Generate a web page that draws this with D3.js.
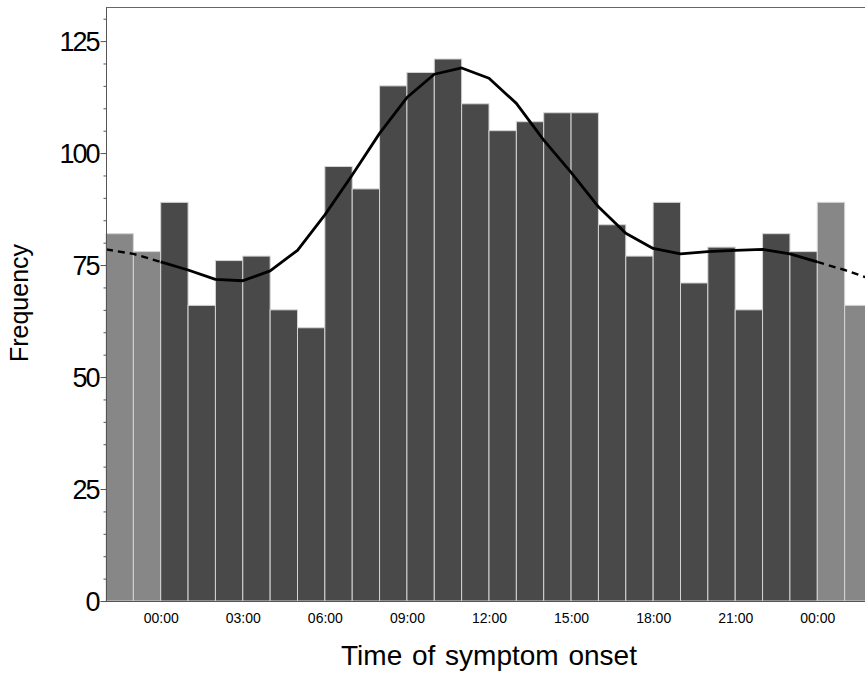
<!DOCTYPE html>
<html>
<head>
<meta charset="utf-8">
<script src="https://cdn.jsdelivr.net/npm/d3@7/dist/d3.min.js"></script>
<style>
  html, body { margin: 0; padding: 0; background: #fff; }
  svg { display: block; }
  text { font-family: "Liberation Sans", Arial, sans-serif; fill: #000; }
</style>
</head>
<body>
<svg id="chart" width="865" height="673"></svg>
<script>
// ---- data ----
const hours = d3.range(0, 24); // bin start hour
const counts = [89, 66, 76, 77, 65, 61, 97, 92, 115, 118, 121, 111, 105, 107, 109, 109, 84, 77, 89, 71, 79, 65, 82, 78];
// smoothed curve evaluated at bin edges 0..24
const curveHours = d3.range(0, 25);
const curveValues = [75.7, 73.9, 71.8, 71.5, 73.7, 78.3, 86.2, 95.1, 104.4, 112.4, 117.6, 119.0, 116.7, 111.1, 102.9, 95.7, 88.0, 82.1, 78.7, 77.5, 78.0, 78.3, 78.5, 77.5, 75.7];
const xTickHours = [0, 3, 6, 9, 12, 15, 18, 21, 24];
const yTicks = [0, 25, 50, 75, 100, 125];
const yMinorTicks = d3.range(0, 131, 5);

// ---- layout ----
const svg = d3.select("#chart");
const x = d3.scaleLinear().domain([-2, 26]).range([106, 872]);
const y = d3.scaleLinear().domain([0, 132.5]).range([601, 7.5]);

// bars: main day (dark) plus wrapped repeats (light)
const barData = hours.map((h, i) => ({ h, v: counts[i], wrap: false }));
const wrapLeft = [22, 23].map(h => ({ h: h - 24, v: counts[h], wrap: true }));
const wrapRight = [0, 1].map(h => ({ h: h + 24, v: counts[h], wrap: true }));
const allBars = wrapLeft.concat(barData, wrapRight);

svg.append("g").selectAll("rect").data(allBars).join("rect")
  .attr("x", d => x(d.h))
  .attr("y", d => y(d.v))
  .attr("width", d => x(d.h + 1) - x(d.h))
  .attr("height", d => y(0) - y(d.v))
  .attr("fill", d => d.wrap ? "#878787" : "#494949")
  .attr("stroke", "#d4d4d4")
  .attr("stroke-width", 1);

// curve
const line = d3.line().x(d => x(d[0])).y(d => y(d[1]));
const solidPts = curveHours.map((h, i) => [h, curveValues[i]]);
const leftPts = [22, 23, 24].map(h => [h - 24, curveValues[h]]);
const rightPts = [0, 1, 2].map(h => [h + 24, curveValues[h]]);

svg.append("path").attr("d", line(solidPts))
  .attr("fill", "none").attr("stroke", "#000").attr("stroke-width", 2.8)
  .attr("stroke-linejoin", "round");
[leftPts, rightPts].forEach(p => {
  svg.append("path").attr("d", line(p))
    .attr("fill", "none").attr("stroke", "#000").attr("stroke-width", 2.4)
    .attr("stroke-dasharray", "7,5");
});

// frame lines
svg.append("line").attr("x1", 106).attr("x2", 865).attr("y1", 7.5).attr("y2", 7.5)
  .attr("stroke", "#666").attr("stroke-width", 1);
svg.append("line").attr("x1", 106).attr("x2", 865).attr("y1", y(0) + 0.5).attr("y2", y(0) + 0.5)
  .attr("stroke", "#555").attr("stroke-width", 1);

// y axis
const yAxis = d3.axisLeft(y).tickValues(yTicks).tickSize(6).tickPadding(2).tickFormat(d3.format("d"));
const gy = svg.append("g").attr("transform", "translate(106.5,0)").call(yAxis);
gy.select(".domain").attr("stroke", "#555").attr("d", "M0,7.5V601");
gy.selectAll(".tick line").attr("stroke", "#555");
gy.selectAll(".tick text").style("font-size", "27px").style("letter-spacing", "-2px")
  .attr("dy", "0.36em").attr("x", -8);
const yMinor = d3.axisLeft(y).tickValues(yMinorTicks.filter(v => yTicks.indexOf(v) < 0)).tickSize(3).tickFormat("");
const gym = svg.append("g").attr("transform", "translate(106.5,0)").call(yMinor);
gym.select(".domain").remove();
gym.selectAll(".tick line").attr("stroke", "#555");

// x axis labels (no tick marks)
const xAxis = d3.axisBottom(x).tickValues(xTickHours).tickSize(0).tickPadding(12)
  .tickFormat(h => String(h % 24).padStart(2, "0") + ":00");
const gx = svg.append("g").attr("transform", "translate(0,601)").call(xAxis);
gx.select(".domain").remove();
gx.selectAll(".tick text").style("font-size", "14px").attr("dy", "0.68em");

// axis titles
svg.append("text").attr("x", 489).attr("y", 665).attr("text-anchor", "middle")
  .style("font-size", "28px").style("word-spacing", "2px").text("Time of symptom onset");
svg.append("text").attr("transform", "translate(28,303) rotate(-90)").attr("text-anchor", "middle")
  .style("font-size", "25px").text("Frequency");
</script>
</body>
</html>
